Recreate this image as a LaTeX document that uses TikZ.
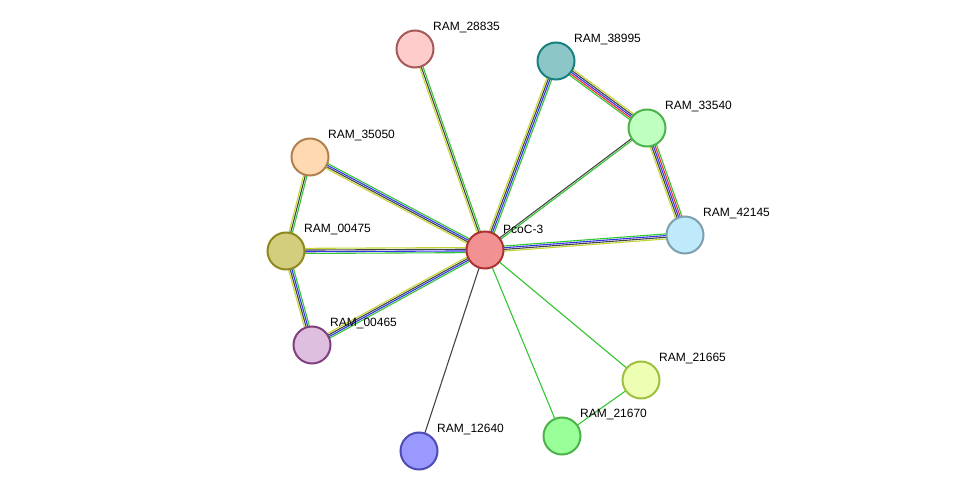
\documentclass[tikz,border=0pt]{standalone}
\usepackage{fontspec}
\setmainfont{Liberation Sans}
\usetikzlibrary{calc,backgrounds}
\definecolor{eg}{HTML}{33C633}
\definecolor{eb}{HTML}{3333EE}
\definecolor{ek}{HTML}{444444}
\definecolor{ey}{HTML}{C4D634}
\definecolor{er}{HTML}{F03030}
\newcommand\edg[4]{%
  \foreach \c [count=\i] in {#4} {%
    \pgfmathsetmacro\o{(\i-1-(#3-1)/2)*1.7}%
    \draw[\c,line width=1.1pt] ($(#1.center)!\o pt!90:(#2.center)$) -- ($(#2.center)!\o pt!-90:(#1.center)$);
  }}
\begin{document}
\begin{tikzpicture}[x=1pt,y=-1pt,
  nd/.style={circle,minimum size=37pt,inner sep=0pt,line width=2pt},
  lb/.style={anchor=south west,inner sep=0pt,font=\fontsize{12}{14}\selectfont}]
\useasboundingbox (0,0) rectangle (975,497);
\def\N#1#2#3#4#5#6{\node[nd,fill=#5,draw=#6] (#1) at (#2,#3) {};
  \node[lb] at (#2+18,#3-16) {#4};}
\N{p}{485}{250}{PcoC-3}{red!40!white!95!black}{red!60!black!80}
\N{a}{415}{49}{RAM\_28835}{pink!80!white}{red!30!gray}
\N{b}{556}{61}{RAM\_38995}{teal!45!white}{teal!80!gray}
\N{c}{647}{128}{RAM\_33540}{green!25!white}{green!40!gray}
\N{d}{685}{235}{RAM\_42145}{cyan!25!white}{cyan!30!gray}
\N{e}{310}{157}{RAM\_35050}{orange!30!white}{orange!40!gray}
\N{f}{286}{251}{RAM\_00475}{olive!40!white}{olive!80!gray}
\N{g}{312}{345}{RAM\_00465}{violet!25!white}{violet!50!gray}
\N{h}{419}{451}{RAM\_12640}{blue!40!white}{blue!40!gray}
\N{i}{562}{436}{RAM\_21670}{green!40!white}{green!40!gray}
\N{j}{641}{380}{RAM\_21665}{lime!30!white}{lime!50!gray}
\begin{scope}[on background layer]
\edg{p}{e}{4}{eg,eb,ek,ey}
\edg{f}{p}{4}{eg,eb,ek,ey}
\edg{g}{p}{4}{eg,eb,ek,ey}
\edg{g}{f}{4}{eg,eb,ek,ey}
\edg{p}{b}{4}{eg,eb,ek,ey}
\edg{p}{d}{4}{ey,ek,eb,eg}
\edg{f}{e}{3}{eg,ek,ey}
\edg{p}{a}{3}{eg,ek,ey}
\edg{b}{c}{5}{eg,er,eb,ek,ey}
\edg{d}{c}{5}{eg,er,eb,ek,ey}
\edg{p}{c}{2}{eg,ek}
\edg{p}{h}{1}{ek}
\edg{p}{i}{1}{eg}
\edg{p}{j}{1}{eg}
\edg{i}{j}{1}{eg}
\end{scope}
\end{tikzpicture}
\end{document}
